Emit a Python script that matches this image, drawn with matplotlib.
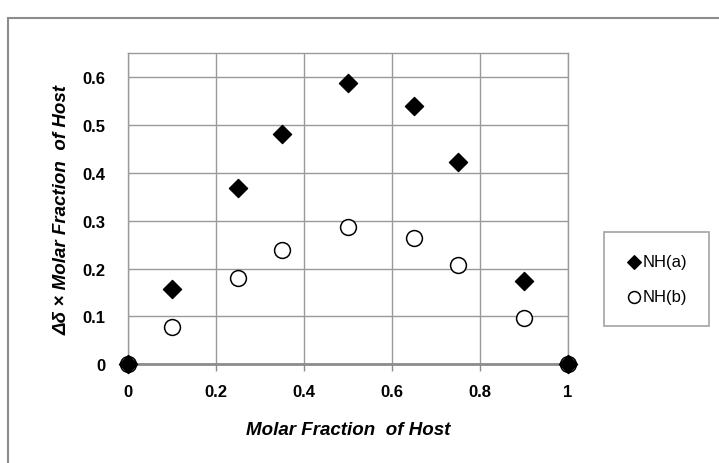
import matplotlib
matplotlib.use("Agg")
from matplotlib import pyplot as plt
from matplotlib.patches import Rectangle

# data
host_fraction = [0, 0.1, 0.25, 0.35, 0.5, 0.65, 0.75, 0.9, 1]
nh_a = [0, 0.157, 0.368, 0.482, 0.588, 0.540, 0.422, 0.175, 0]
nh_b = [0, 0.078, 0.180, 0.238, 0.288, 0.265, 0.208, 0.096, 0]
x_ticks = [0, 0.2, 0.4, 0.6, 0.8, 1]
y_ticks = [0, 0.1, 0.2, 0.3, 0.4, 0.5, 0.6]

plt.rcParams['font.family'] = ['Liberation Sans', 'DejaVu Sans']

fig = plt.figure(figsize=(7.19, 4.64), dpi=100)
fig.patches.append(Rectangle((8 / 719, -0.1), 1.2, 1 - 19 / 464 + 0.1, transform=fig.transFigure,
                             fill=False, edgecolor='#8c8c8c', linewidth=1.5))

ax = fig.add_axes([128 / 719, 1 - 365.3 / 464, 440 / 719, 311 / 464])
ax.set_xlim(0, 1)
ax.set_ylim(0, 0.65)

ax.scatter(host_fraction, nh_b, marker='o', s=130, facecolor='white', edgecolor='black',
           linewidth=1.1, zorder=3, clip_on=False, label='NH(b)')
ax.scatter(host_fraction, nh_a, marker='D', s=85, color='black', zorder=4, clip_on=False,
           label='NH(a)')

ax.set_xticks(x_ticks)
ax.set_yticks(y_ticks)
ax.set_xticklabels(['0', '0.2', '0.4', '0.6', '0.8', '1'], fontweight='bold', fontsize=12)
ax.set_yticklabels(['0', '0.1', '0.2', '0.3', '0.4', '0.5', '0.6'], fontweight='bold', fontsize=12)
ax.tick_params(axis='x', length=5, width=1, color='#8c8c8c', pad=9)
ax.tick_params(axis='y', length=0, pad=16)
ax.grid(True, color='#9a9a9a', linewidth=1)
ax.set_axisbelow(True)
for side in ['top', 'right', 'left']:
    ax.spines[side].set_color('#9a9a9a')
    ax.spines[side].set_linewidth(1)
ax.spines['bottom'].set_color('#8c8c8c')
ax.spines['bottom'].set_linewidth(2)

ax.set_xlabel('Molar Fraction  of Host', fontweight='bold', fontstyle='italic', fontsize=13.5, labelpad=16)
ax.set_ylabel('Δδ × Molar Fraction  of Host', fontweight='bold', fontstyle='italic', fontsize=13.5, labelpad=9)

handles, labels = ax.get_legend_handles_labels()
leg = fig.legend([handles[1], handles[0]], [labels[1], labels[0]], loc='center left',
                 bbox_to_anchor=(596 / 719, 1 - 280 / 464), fontsize=12, frameon=True,
                 fancybox=False, edgecolor='#8c8c8c', handletextpad=0.0, labelspacing=1.2,
                 borderpad=1.3, markerscale=0.75, handlelength=1.0)
leg.get_frame().set_linewidth(1.2)

fig.savefig('out.png', dpi=100)
